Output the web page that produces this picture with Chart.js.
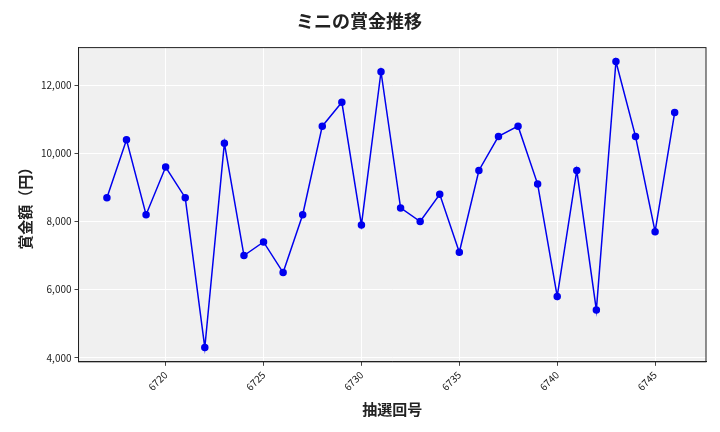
<!DOCTYPE html>
<html>
<head>
<meta charset="utf-8">
<script src="https://cdn.jsdelivr.net/npm/chart.js@4"></script>
<style>
  body { margin: 0; background: #fff; }
  #wrap { width: 720px; height: 432px; }
</style>
</head>
<body>
<div id="wrap"><canvas id="c"></canvas></div>
<script>
const draws = [6717,6718,6719,6720,6721,6722,6723,6724,6725,6726,6727,6728,6729,6730,6731,6732,6733,6734,6735,6736,6737,6738,6739,6740,6741,6742,6743,6744,6745,6746];
const prizes = [8700,10400,8200,9600,8700,4300,10300,7000,7400,6500,8200,10800,11500,7900,12400,8400,8000,8800,7100,9500,10500,10800,9100,5800,9500,5400,12700,10500,7700,11200];

const FONT = "'Noto Sans CJK JP', 'Noto Sans', sans-serif";

const bgPlugin = {
    id: 'plotBg',
    beforeDraw(chart) {
        const a = chart.chartArea, ctx = chart.ctx;
        ctx.save();
        ctx.fillStyle = '#f0f0f0';
        ctx.fillRect(a.left, a.top, a.right - a.left, a.bottom - a.top);
        ctx.restore();
    },
    afterDraw(chart) {
        const a = chart.chartArea, ctx = chart.ctx;
        ctx.save();
        ctx.strokeStyle = '#222';
        ctx.lineWidth = 1;
        ctx.strokeRect(a.left, a.top, a.right - a.left, a.bottom - a.top);
        ctx.restore();
    }
};

new Chart(document.getElementById('c'), {
    type: 'line',
    data: {
        datasets: [{
            data: draws.map((d, i) => ({ x: d, y: prizes[i] })),
            borderColor: '#0000ee',
            backgroundColor: '#0000ee',
            borderWidth: 1.5,
            pointRadius: 3,
            tension: 0
        }]
    },
    options: {
        responsive: true,
        maintainAspectRatio: false,
        animation: false,
        layout: { padding: { left: 12, right: 14, top: 8, bottom: 10 } },
        plugins: {
            legend: { display: false },
            title: {
                display: true,
                text: 'ミニの賞金推移',
                font: { family: FONT, size: 18, weight: 'bold' },
                color: '#222',
                padding: { top: 2, bottom: 16 }
            }
        },
        scales: {
            x: {
                type: 'linear',
                min: 6715.55,
                max: 6747.6,
                afterBuildTicks: s => { s.ticks = [6720,6725,6730,6735,6740,6745].map(v => ({ value: v })); },
                ticks: { font: { family: FONT, size: 10 }, color: '#222', maxRotation: 45, minRotation: 45, callback: v => String(v) },
                grid: { color: '#ffffff', lineWidth: 1, tickColor: '#444', tickLength: 4 },
                border: { color: '#222' },
                title: { display: true, text: '抽選回号', font: { family: FONT, size: 15, weight: 'bold' }, color: '#222' }
            },
            y: {
                min: 3880,
                max: 13108,
                afterBuildTicks: s => { s.ticks = [4000,6000,8000,10000,12000].map(v => ({ value: v })); },
                ticks: { font: { family: FONT, size: 10 }, color: '#222', callback: v => v.toLocaleString('en-US') },
                grid: { color: '#ffffff', lineWidth: 1, tickColor: '#444', tickLength: 4 },
                border: { color: '#222' },
                title: { display: true, text: '賞金額（円）', font: { family: FONT, size: 15, weight: 'bold' }, color: '#222' }
            }
        }
    },
    plugins: [bgPlugin]
});
</script>
</body>
</html>
